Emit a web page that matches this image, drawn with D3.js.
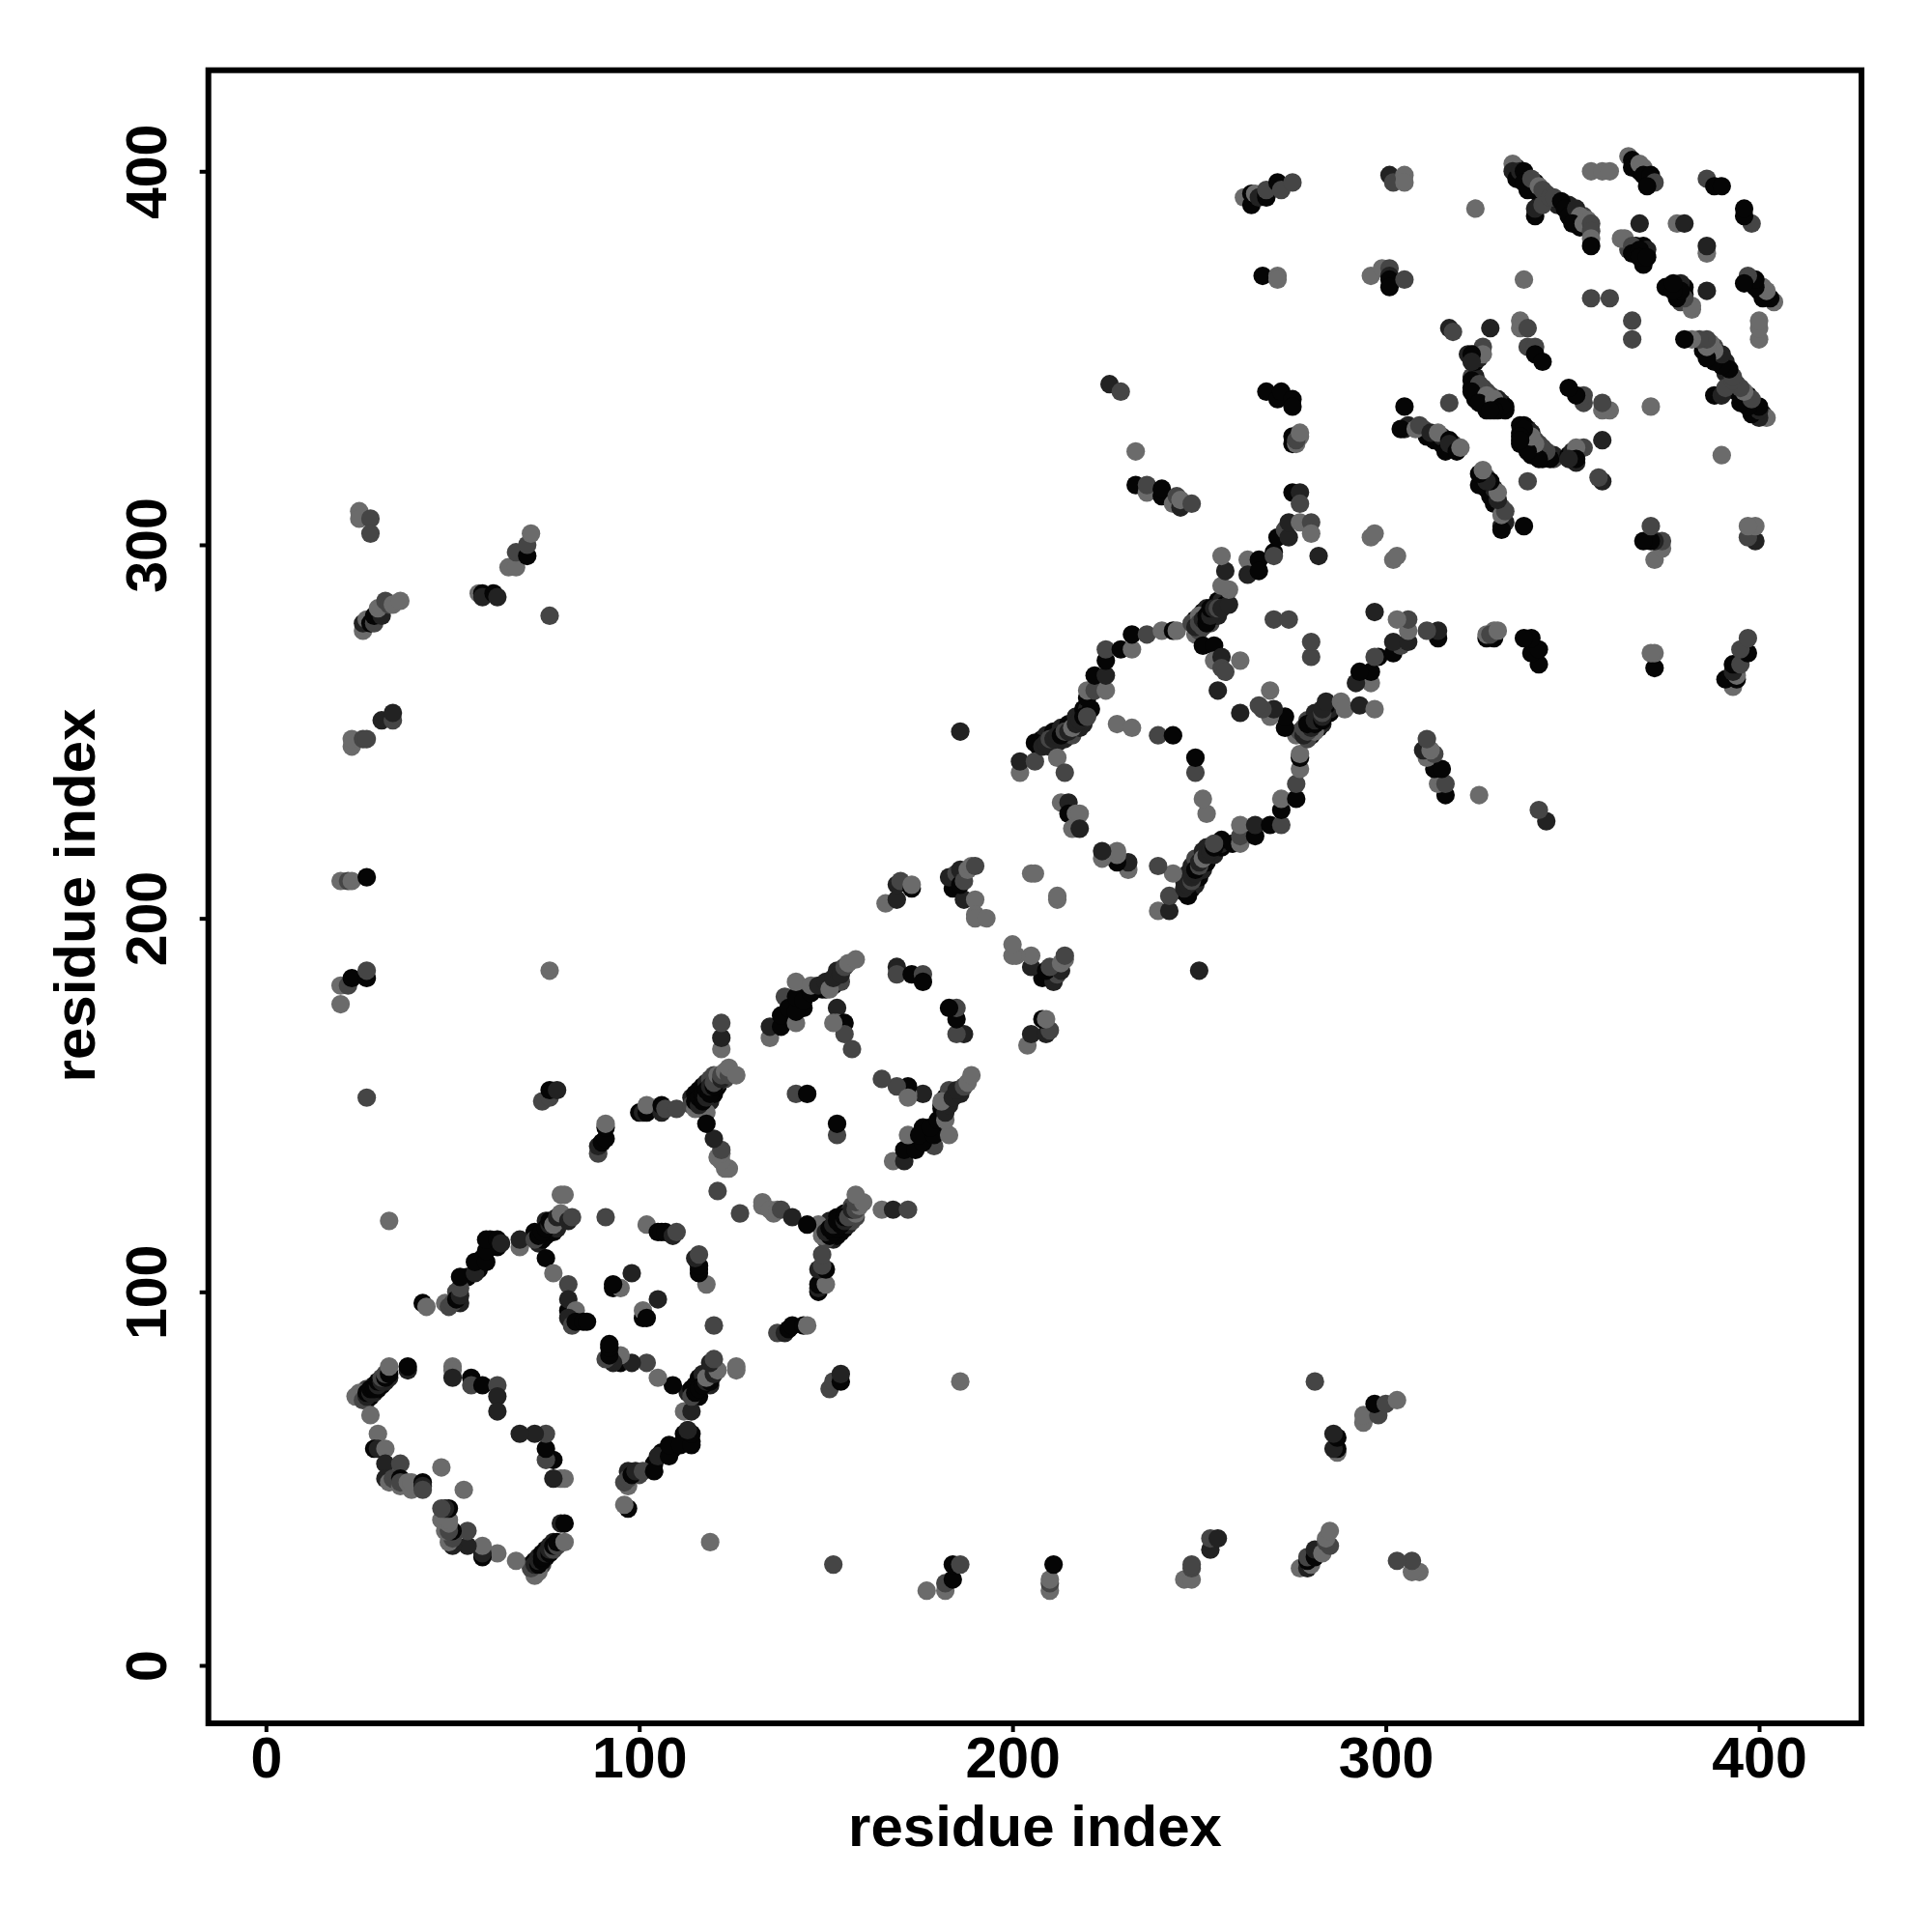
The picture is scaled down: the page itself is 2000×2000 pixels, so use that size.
<!DOCTYPE html>
<html><head><meta charset="utf-8">
<style>html,body{margin:0;padding:0;background:#fff}svg{display:block}</style>
<script src="https://cdn.jsdelivr.net/npm/d3@7"></script>
</head><body><div id="chart"></div>
<script>
// Each contact: [residue i, residue j, level]; the map is symmetric, so each pair is shown at (i,j) and (j,i).
const axisTicks = [0, 100, 200, 300, 400];
const axisTitle = "residue index";
const domainLimits = [0, 400];
const levels = [0, 1, 2, 3];

// Contacts hidden inside the thick strands, painted first.
const strandCores = [[26,73,1],[27,71,1],[28,72,0],[29,73,1],[29,75,0],[30,74,0],[31,75,0],[32,76,1],[33,77,1],[27,74,2],
[57,106,0],[58,109,0],[60,112,0],[60,114,0],[61,113,0],[62,112,0],[54,104,0],[51,100,2],[52,97,1],[72,116,0],[73,113,1],[74,114,0],[75,115,0],[75,119,1],[77,116,0],[78,117,1],[80,120,2],[81,95,0],[83,93,1],[82,92,0],
[114,152,1],[115,153,0],[116,154,0],[117,155,0],[118,156,1],[119,157,2],[120,158,2],[117,149,2],[119,151,1],[120,153,0],[121,155,0],[121,156,1],[123,157,2],
[149,181,0],[150,181,0],[151,183,0],[152,182,0],[153,184,1],[154,183,2],[139,173,0],[140,173,0],[141,175,0],[143,177,0],[143,180,1],[145,181,2],[144,176,0],[140,178,2],[141,178,3],
[207,246,0],[208,248,0],[209,249,1],[210,246,1],[211,250,0],[212,247,1],[213,251,1],[214,248,1],[215,252,0],[216,249,2],[217,254,1],[218,251,1],[219,252,1],[219,256,0],[220,256,1],[221,256,0],
[249,276,3],[249,280,0],[250,277,2],[251,282,0],[252,283,1],[253,279,2],[254,281,0],[255,281,1],[255,285,0],[256,285,1],[257,284,0],
[335,401,1],[336,398,0],[338,398,0],[339,396,0],[340,395,1],[340,397,0],[341,394,0],[342,393,0],[343,394,2],[343,392,1],[346,391,1],[349,391,1],[350,389,0],[351,388,0],[353,388,2],[352,385,0],[354,385,0],[354,387,3],
[367,402,0],[368,400,0],[369,401,3],[370,398,0],[371,397,0],[367,380,0],[367,378,0],[369,378,0],[369,380,0],[365,379,2],[370,379,1],
[324,342,0],[324,339,0],[326,341,1],[326,339,1],[327,338,0],[328,337,0],[330,338,2],[330,336,0],[327,336,0],[331,338,1],[332,337,0],[330,339,1],[332,336,0],
[323,342,0],[324,343,0],[325,341,0],[326,342,2],[327,341,2],[328,339,1],[329,338,2],[328,340,2],[323,345,2],[324,345,1],[324,349,0],[324,351,0],[325,350,1],[322,351,1],
[306,332,1],[310,331,2],[311,329,0],[313,328,0],[315,327,0],[316,327,0],[318,327,2],[315,329,1]];

const firstLoop = [[24,72,3],[25,73,3],[26,71,2],[27,72,1],[27,73,0],[28,73,1],[28,74,0],[29,74,0],[30,75,1],[30,76,0],[31,76,1],[31,77,2],[32,77,0],[32,78,2],[33,78,0],[33,80,3],[38,79,1],[38,80,0],
[28,67,3],[30,62,3],[29,58,0],[30,58,1],[32,58,3],[32,54,1],[36,54,2],[32,50,1],[33,49,3],[34,50,2],[36,50,0],[36,48,3],[36,49,2],[38,49,3],[39,47,3],[39,49,3],[42,49,0],[42,48,1],[42,47,2],[47,53,3],
[50,80,3],[50,79,3],[50,77,1],[55,77,0],[55,75,2],[58,75,0],[62,75,2],[62,72,1],[62,68,1],[33,119,3]];

const secondLoop = [[42,97,0],[43,96,3],[48,97,3],[49,96,2],[50,97,2],[51,98,0],[52,99,1],[52,101,2],[52,104,0],[56,105,1],[56,108,0],[59,108,0],[59,111,0],[59,114,0],[62,114,0],[63,113,1],[68,112,3],[68,114,1],[72,114,2],[73,115,0],[74,116,0],[75,117,0],[76,118,1],[76,119,0],[77,118,3],[78,120,1],[79,121,3],[79,126,3],[80,126,3],[81,119,1],[82,120,2],
[75,109,0],[77,105,3],[81,102,2],[81,98,1],[83,95,3],[81,93,1],[82,91,2],[83,92,0],[85,92,0],[86,92,0],
[91,120,2],[102,118,3],[105,116,0],[106,116,0],[107,116,0],[109,115,1],[110,116,2],[98,105,1],[93,101,0],[95,101,3],[93,102,0],
[89,137,2],[89,139,1],[90,140,0],[91,141,0],[91,144,0],[91,145,3],
[100,148,0],[101,148,1],[102,148,0],[102,150,3],[106,148,1],[106,150,0],[107,149,2],[110,149,2]];

const thirdLoop = [[121,127,2],[124,133,3],[123,133,3],[121,136,3],[122,135,3],[122,137,3],[122,138,2],[120,141,1],[118,148,3],[118,145,0],
[114,150,2],[115,149,3],[115,151,0],[116,150,1],[116,152,0],[117,151,0],[117,153,0],[118,152,1],[118,154,0],[119,153,0],[119,155,1],[120,155,0],[120,156,2],[121,158,3],[122,157,1],[122,158,2],[123,159,3],[124,158,2],[124,160,3],[126,158,3],
[122,165,3],[122,168,1],[122,172,2],
[135,168,3],[135,171,1],[138,171,0],[138,174,0],[139,179,2],[140,176,0],[142,172,3],[142,175,0],[142,179,0],[142,183,3],[144,178,0],[146,180,0],[146,182,3],[148,182,1],[150,183,1],[151,181,3],[152,184,1],[153,186,1],[154,185,1],[155,187,2],[156,188,3],[158,189,3],
[153,176,1],[153,172,3],[155,172,0],[155,169,2],[157,165,2],[142,153,2],[145,153,0],
[169,187,1],[169,185,2],[173,185,0],[176,185,2],[176,183,0],[172,152,3],
[166,204,3],[169,205,1],[169,209,1],[170,210,2],[173,208,0],[173,209,3],
[184,208,0],[185,209,0],[187,205,1],[183,211,1],[185,212,2],[186,209,0],[186,213,1],[187,210,2],[188,213,3],[189,214,3],[190,214,2],[190,205,3],[190,201,3],[190,200,3],[193,200,3],[205,212,3],[206,212,3]];

const fourthLoop = [[202,239,3],[202,242,1],[206,242,2],[206,247,0],[208,246,1],[209,247,1],[210,248,2],[211,248,1],[212,249,1],[213,249,0],[214,250,2],[215,250,1],[216,251,3],[217,252,1],[218,253,1],[219,254,0],[220,254,2],[212,243,3],[214,239,2],
[220,259,0],[220,261,3],[222,261,2],[225,261,3],[222,265,0],[225,265,1],[225,269,0],[225,272,2],[229,272,0],[232,272,3],[232,276,0],[236,276,2],[240,277,3],[243,277,0],[244,277,3],
[248,279,2],[249,278,1],[250,281,3],[250,279,2],[251,278,2],[251,280,1],[252,279,0],[252,281,0],[253,281,1],[253,283,0],[254,283,1],[255,283,2],[256,283,1],[258,284,1],[258,288,3],[256,289,3],[257,293,1],[256,297,3],
[251,273,0],[254,273,0],[254,269,3],[256,270,1],[256,267,2],[257,266,2],[255,261,1],[261,269,3],[270,280,2],[274,280,2],
[228,252,3],[232,251,3],[239,249,2],[243,249,0],[213,231,3],[215,231,1],[215,228,0],[217,228,3],[218,228,3],[216,224,3],[218,224,1],
[263,296,3],[263,292,1],[266,296,0],[266,293,0],[270,298,0],[270,297,2],[271,302,0],[273,304,2],[274,302,1],[274,306,1],[277,306,3],[280,306,2],[280,303,3],[282,297,1],
[275,314,0],[277,314,1],[277,311,2],[296,302,3],[297,303,3]];

const longRange = [[20,177,3],[20,182,3],[22,182,2],[23,184,0],[27,184,0],[27,186,2],[20,210,3],[22,210,2],[23,210,3],[27,211,0],[23,246,3],[23,248,3],[26,248,2],[27,248,2],[31,253,1],[34,253,2],[34,255,1],[25,309,3],[25,307,3],[28,307,2],[28,303,2],
[26,277,3],[26,279,1],[27,280,3],[28,279,0],[29,279,2],[29,281,0],[31,281,1],[30,283,3],[32,285,2],[33,284,2],[34,284,3],[36,285,3],
[57,287,3],[58,287,0],[58,286,1],[61,287,0],[62,286,1],[65,294,3],[67,294,3],[67,298,2],[70,297,0],[70,300,2],[71,303,3],[76,281,2],
[27,152,2],[76,186,3],[74,151,2],[76,152,2],[76,154,0],[78,154,1],[186,250,1],
[233,316,0],[236,314,3],[236,316,2],[240,313,0],[240,315,0],[243,311,3],[244,313,2],[245,310,1],[245,312,3],[248,311,2],[226,343,1],[229,341,2],[233,325,3],
[268,341,0],[271,339,0],[272,341,0],[275,339,0],[275,337,0],[275,329,0],[275,327,0],[277,329,3],[276,327,3],[276,328,2],[277,330,3],
[267,372,0],[271,372,3],[271,371,3],[262,393,3],[264,391,0],[264,394,0],[265,394,3],[266,393,1],[268,393,0],[268,394,0],[268,395,2],[271,397,0],[272,395,2],[275,397,2]];

const lastDomain = [[296,372,3],[299,374,3],[301,374,2],[301,372,1],[301,371,0],[301,369,0],[305,371,2],
[301,399,1],[302,397,2],[305,399,3],[305,397,3],[324,390,3],[337,371,3],
[334,402,3],[334,400,1],[335,398,0],[336,400,1],[337,400,0],[337,397,0],[338,395,0],[339,398,2],[340,388,0],[340,390,1],[341,396,3],[342,395,2],[342,391,2],[344,393,2],[345,393,2],[347,392,0],[348,390,0],[349,388,0],[351,390,1],[352,388,3],[350,386,0],[353,386,3],[355,386,2],[355,384,2],[355,382,3],[355,380,0],
[355,400,3],[358,400,3],[360,400,3],[365,404,3],[366,403,0],[366,401,0],[368,402,3],[369,399,0],[371,399,0],[372,397,2],[370,396,0],
[386,398,2],[388,396,0],[390,396,0],[368,386,1],[378,386,3],[380,386,1],
[369,375,0],[363,382,3],[364,382,3],[366,380,2],[366,378,0],[368,379,0],[368,377,0],[370,377,0],[355,366,2],[360,366,2],
[305,331,1],[304,331,0],[308,331,3],[309,332,2],[312,330,1],[314,330,3],[317,328,0],[316,325,0],[317,327,1],[319,325,0],[320,326,3],
[305,337,0],[317,338,2],[317,358,1],[318,357,2],[328,358,1],[336,360,3],[336,358,3],[338,358,2],[338,353,2],[340,353,2],[340,351,0],[342,349,0],
[326,353,2],[326,351,3],[323,351,0],[323,349,1],[323,344,0],[325,343,2],[323,341,0],[327,340,3],[325,338,0],[329,339,3],[331,337,0],[329,336,0],[328,336,0]];

const allContacts = [strandCores, firstLoop, secondLoop, thirdLoop, fourthLoop, longRange, lastDomain].flat();

const width = 2000, height = 2000;
const box = {left: 215.7, right: 1927, top: 72.7, bottom: 1784};
const x = d3.scaleLinear().domain(domainLimits).range([275.3, 1821]);
const y = d3.scaleLinear().domain(domainLimits).range([1724, 177.3]);
const grey = d3.scaleOrdinal().domain(levels).range(["#050505", "#222222", "#454545", "#6b6b6b"]);

const svg = d3.select("#chart").append("svg").attr("width", width).attr("height", height)
  .style("font-family", "'Liberation Sans', Arial, sans-serif").style("font-weight", "bold");
svg.append("rect").attr("width", width).attr("height", height).attr("fill", "#fff");

svg.append("g").selectAll("circle")
  .data(allContacts.flatMap(([i, j, s]) => [[i, j, s], [j, i, s]]))
  .join("circle")
  .attr("cx", d => x(d[0])).attr("cy", d => y(d[1])).attr("r", 9.6)
  .attr("fill", d => grey(d[2]));

const xAxis = d3.axisBottom(x).tickValues(axisTicks).tickSize(9).tickSizeOuter(0);
const yAxis = d3.axisLeft(y).tickValues(axisTicks).tickSize(9).tickSizeOuter(0);

const gx = svg.append("g").attr("transform", `translate(0,${box.bottom})`).call(xAxis);
const gy = svg.append("g").attr("transform", `translate(${box.left},0)`).call(yAxis);
[gx, gy].forEach(g => {
  g.select(".domain").remove();
  g.selectAll("line").attr("stroke", "#000").attr("stroke-width", 4);
});
gx.selectAll("text").attr("y", 56).attr("dy", null).attr("text-anchor", "middle")
  .attr("fill", "#000").style("font-size", "59px");
gy.selectAll("text").attr("x", null).attr("dy", null).attr("text-anchor", "middle")
  .attr("transform", "translate(-44,0) rotate(-90)").attr("y", 0)
  .attr("fill", "#000").style("font-size", "59px");

svg.append("rect").attr("x", box.left).attr("y", box.top)
  .attr("width", box.right - box.left).attr("height", box.bottom - box.top)
  .attr("fill", "none").attr("stroke", "#000").attr("stroke-width", 6);

svg.append("text").attr("x", 1071.5).attr("y", 1911).attr("text-anchor", "middle")
  .style("font-size", "60px").text(axisTitle);
svg.append("text").attr("transform", "translate(98,927) rotate(-90)").attr("text-anchor", "middle")
  .style("font-size", "60px").text(axisTitle);
</script></body></html>
